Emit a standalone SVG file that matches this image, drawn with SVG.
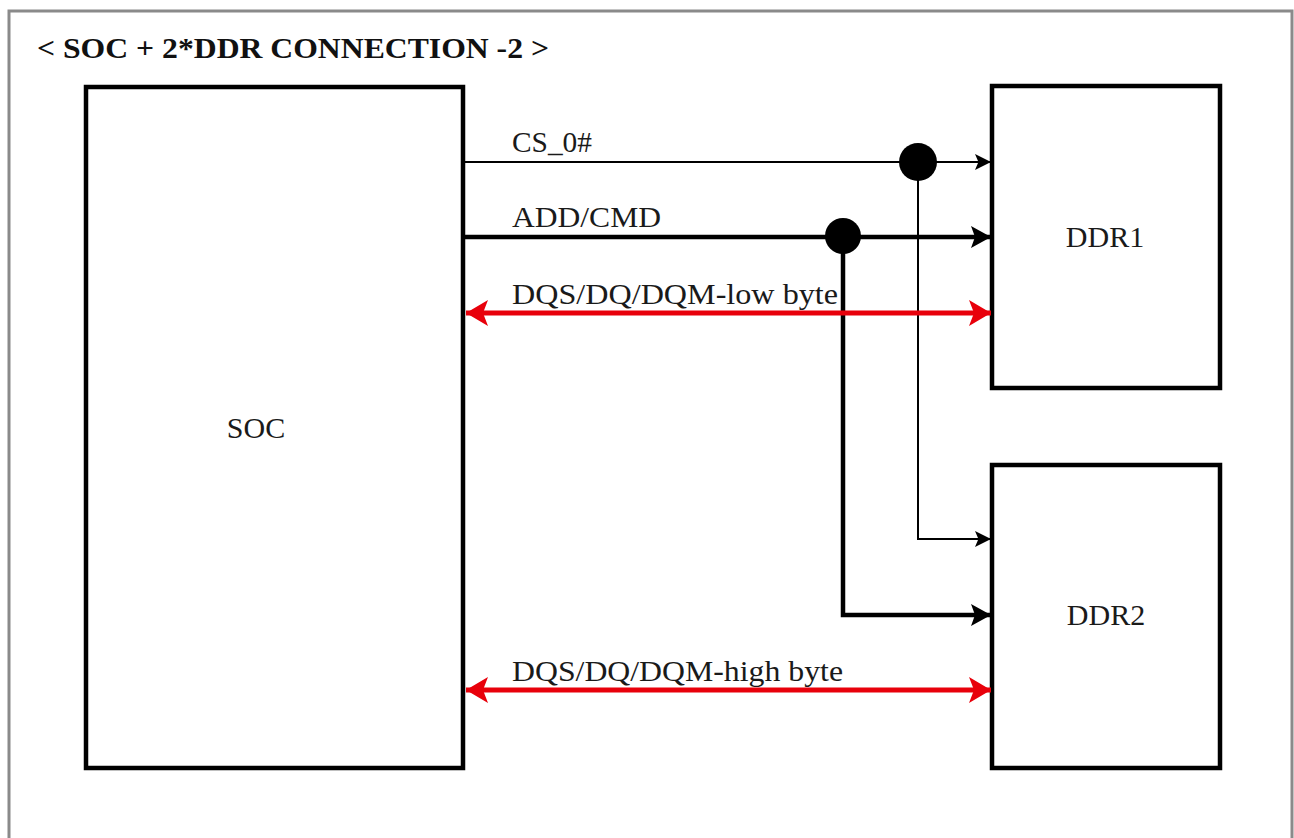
<svg xmlns="http://www.w3.org/2000/svg" width="1294" height="838" viewBox="0 0 1294 838">
  <style>
    .frame { fill: none; stroke: #8a8a8a; stroke-width: 3; }
    .box { fill: #ffffff; stroke: #000000; stroke-width: 4.5; }
    .lbl { font-family: "Liberation Serif", "Times New Roman", serif; font-size: 30px; fill: #1a1a1a; }
    .title { font-family: "Liberation Serif", "Times New Roman", serif; font-size: 30px; font-weight: bold; fill: #111111; }
    .thin { fill: none; stroke: #000000; stroke-width: 2; }
    .thick { fill: none; stroke: #000000; stroke-width: 4.5; }
    .red { fill: none; stroke: #e8000b; stroke-width: 5; }
  </style>
  <defs>
    <marker id="ahThin" markerUnits="userSpaceOnUse" markerWidth="16" markerHeight="16" viewBox="0 0 14 14" refX="14" refY="7" orient="auto">
      <path d="M0,0 L14,7 L0,14 L3,7 Z" fill="#000"/>
    </marker>
    <marker id="ahThick" markerUnits="userSpaceOnUse" markerWidth="22" markerHeight="22" viewBox="0 0 20 22" refX="20" refY="11" orient="auto">
      <path d="M0,0 L20,11 L0,22 L4,11 Z" fill="#000"/>
    </marker>
    <marker id="ahRed" markerUnits="userSpaceOnUse" markerWidth="24" markerHeight="26" viewBox="0 0 22 26" refX="22" refY="13" orient="auto-start-reverse">
      <path d="M0,0 L22,13 L0,26 L5,13 Z" fill="#e8000b"/>
    </marker>
  </defs>

  <rect x="0" y="0" width="1294" height="838" fill="#ffffff"/>
  <path class="frame" d="M9,842 V11 H1292 V842"/>

  <text class="title" x="37" y="58" textLength="512" lengthAdjust="spacingAndGlyphs">&lt; SOC + 2*DDR CONNECTION -2 &gt;</text>

  <g id="soc">
    <rect class="box" x="86" y="87" width="377" height="681"/>
    <text class="lbl" x="256" y="438" text-anchor="middle">SOC</text>
  </g>

  <g id="ddr1">
    <rect class="box" x="992" y="86" width="228" height="302"/>
    <text class="lbl" x="1105" y="247" text-anchor="middle">DDR1</text>
  </g>

  <g id="ddr2">
    <rect class="box" x="992" y="465" width="228" height="303"/>
    <text class="lbl" x="1106" y="625" text-anchor="middle">DDR2</text>
  </g>

  <g id="connectors">
    <line class="thin" x1="463" y1="162" x2="991" y2="162" marker-end="url(#ahThin)"/>
    <path class="thin" d="M918,162 V539 H991" marker-end="url(#ahThin)"/>
    <line class="thick" x1="463" y1="237" x2="991" y2="237" marker-end="url(#ahThick)"/>
    <path class="thick" d="M843,237 V615 H991" marker-end="url(#ahThick)"/>
    <line class="red" x1="466" y1="313" x2="991" y2="313" marker-start="url(#ahRed)" marker-end="url(#ahRed)"/>
    <line class="red" x1="466" y1="690" x2="991" y2="690" marker-start="url(#ahRed)" marker-end="url(#ahRed)"/>
    <circle cx="918" cy="162" r="19" fill="#000"/>
    <circle cx="843" cy="236" r="18" fill="#000"/>
    <text class="lbl" x="512" y="152" textLength="80" lengthAdjust="spacingAndGlyphs">CS_0#</text>
    <text class="lbl" x="512" y="227" textLength="149" lengthAdjust="spacingAndGlyphs">ADD/CMD</text>
    <text class="lbl" x="512" y="304" textLength="326" lengthAdjust="spacingAndGlyphs">DQS/DQ/DQM-low byte</text>
    <text class="lbl" x="512" y="681" textLength="331" lengthAdjust="spacingAndGlyphs">DQS/DQ/DQM-high byte</text>
  </g>
</svg>
